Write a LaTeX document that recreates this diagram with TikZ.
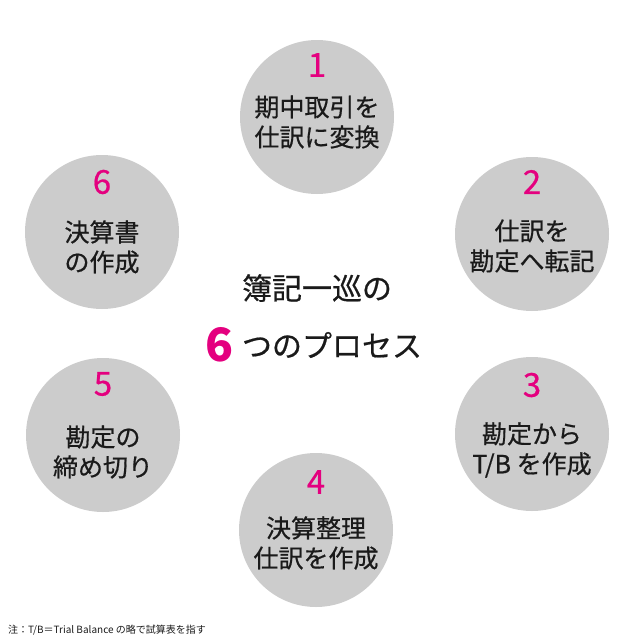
\documentclass[tikz,border=0pt]{standalone}
\usepackage{fontspec}
\setmainfont{Noto Sans CJK JP}
\newfontfamily\medfont{Noto Sans CJK JP}[FakeBold=0.6]
\definecolor{mag}{HTML}{E4007F}
\definecolor{circ}{HTML}{CCCCCC}
\definecolor{ink}{HTML}{1A1A1A}
\tikzset{
  stepcirc/.style={circle, fill=circ, minimum size=154pt, inner sep=0pt},
  numtxt/.style={text=mag, inner sep=0pt, font=\medfont\fontsize{33}{33}\selectfont},
  lbltxt/.style={text=ink, inner sep=0pt, align=center, font=\medfont\fontsize{25}{30}\selectfont},
  titletxt/.style={text=ink, inner sep=0pt, font=\medfont\fontsize{30}{30}\selectfont},
  bignum/.style={text=mag, inner sep=0pt, font=\fontsize{46}{46}\selectfont\bfseries},
  notetxt/.style={text=ink, inner sep=0pt, anchor=west, font=\fontsize{10}{10}\selectfont}
}
\begin{document}
\begin{tikzpicture}[x=1pt,y=-1pt]
\useasboundingbox (0,0) rectangle (640,640);
% circles
\node[stepcirc] (c1) at (317,117) {};
\node[stepcirc] (c2) at (532,234) {};
\node[stepcirc] (c3) at (532,434) {};
\node[stepcirc] (c4) at (316,530) {};
\node[stepcirc] (c5) at (103,435) {};
\node[stepcirc] (c6) at (102,232) {};
% numbers
\node[numtxt] (n1) at (317,65) {1};
\node[numtxt] (n2) at (532,182) {2};
\node[numtxt] (n3) at (532,385) {3};
\node[numtxt] (n4) at (316,482) {4};
\node[numtxt] (n5) at (103,384) {5};
\node[numtxt] (n6) at (102,182) {6};
% labels
\node[lbltxt] (t1) at (317,122) {期中取引を\\仕訳に変換};
\node[lbltxt] (t2) at (532,246) {仕訳を\\勘定へ転記};
\node[lbltxt] (t3) at (532,450) {勘定から\\T/B を作成};
\node[lbltxt] (t4) at (316,543) {決算整理\\仕訳を作成};
\node[lbltxt] (t5) at (103,452) {勘定の\\締め切り};
\node[lbltxt] (t6) at (102,247) {決算書\\の作成};
% center title
\node[titletxt] (title1) at (317,288) {簿記一巡の};
\node[bignum] (six) at (220,345) {6};
\node[titletxt] (title2) at (332,345) {つのプロセス};
% footnote
\node[notetxt] (note) at (8,630) {注：T/B＝Trial Balance の略で試算表を指す};
\end{tikzpicture}
\end{document}
